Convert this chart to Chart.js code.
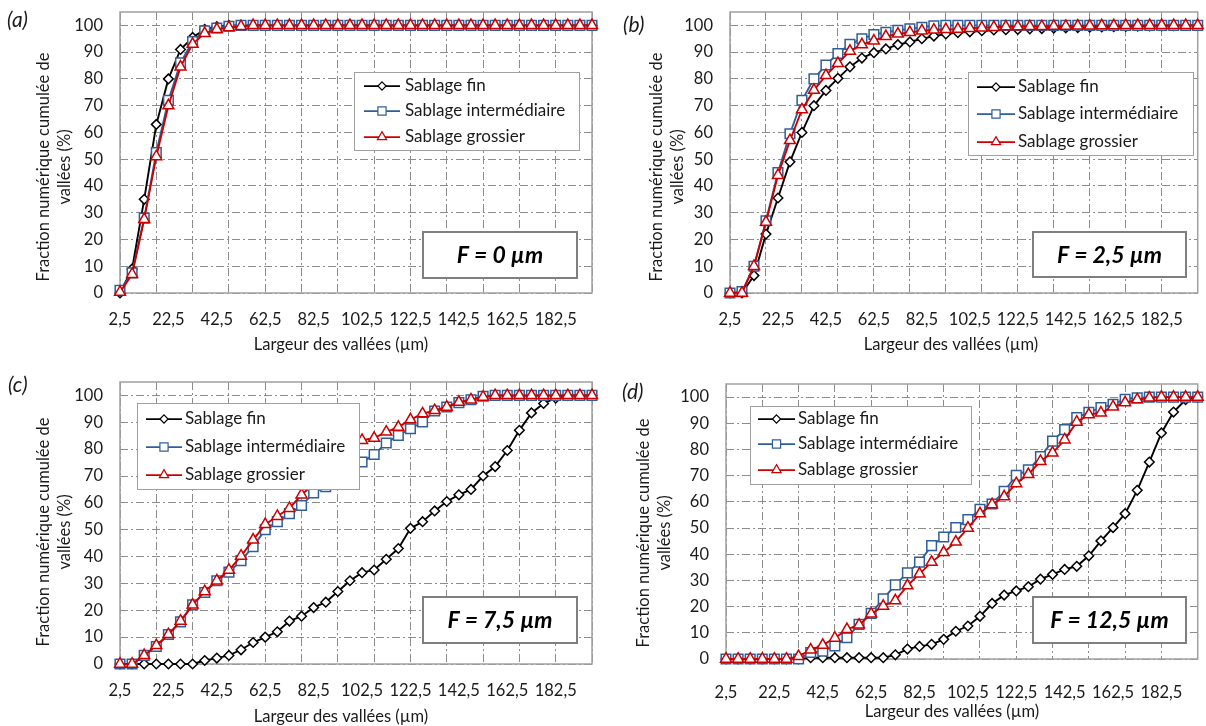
<!DOCTYPE html>
<html>
<head>
<meta charset="utf-8">
<script src="https://cdn.jsdelivr.net/npm/chart.js@4.4.1/dist/chart.umd.min.js"></script>
<style>
html, body { margin: 0; padding: 0; background: #fff; }
#wrap { position: relative; width: 1206px; height: 726px; overflow: hidden; }
canvas { position: absolute; }
</style>
</head>
<body>
<div id="wrap">
  <canvas id="pa" width="603" height="363" style="left:0;top:0"></canvas>
  <canvas id="pb" width="603" height="363" style="left:603px;top:0"></canvas>
  <canvas id="pc" width="603" height="363" style="left:0;top:363px"></canvas>
  <canvas id="pd" width="603" height="363" style="left:603px;top:363px"></canvas>
</div>
<script>
// valley widths (µm), one category every 5 µm
const widths = ['2,5', '7,5', '12,5', '17,5', '22,5', '27,5', '32,5', '37,5', '42,5', '47,5',
  '52,5', '57,5', '62,5', '67,5', '72,5', '77,5', '82,5', '87,5', '92,5', '97,5',
  '102,5', '107,5', '112,5', '117,5', '122,5', '127,5', '132,5', '137,5', '142,5', '147,5',
  '152,5', '157,5', '162,5', '167,5', '172,5', '177,5', '182,5', '187,5', '192,5', '197,5'];

const seriesNames = ['Sablage fin', 'Sablage intermédiaire', 'Sablage grossier'];
const panelLetters = ['(a)', '(b)', '(c)', '(d)'];
const filterLabels = ['F = 0 µm', 'F = 2,5 µm', 'F = 7,5 µm', 'F = 12,5 µm'];
const yTitle = ['Fraction numérique cumulée de', 'vallées (%)'];
const xTitle = 'Largeur des vallées (µm)';

// (a) F = 0 µm
const finA = [0, 9, 35, 63, 80, 91, 95.5, 98.5, 99.5, 100,
  100, 100, 100, 100, 100, 100, 100, 100, 100, 100,
  100, 100, 100, 100, 100, 100, 100, 100, 100, 100,
  100, 100, 100, 100, 100, 100, 100, 100, 100, 100];
const interA = [1, 7.5, 28, 52.5, 72, 86, 94, 98, 99, 99.7,
  100, 100, 100, 100, 100, 100, 100, 100, 100, 100,
  100, 100, 100, 100, 100, 100, 100, 100, 100, 100,
  100, 100, 100, 100, 100, 100, 100, 100, 100, 100];
const grosA = [0.3, 7, 27.5, 51, 70, 84.5, 93, 97, 98.5, 99.2,
  99.6, 100, 100, 100, 100, 100, 100, 100, 100, 100,
  100, 100, 100, 100, 100, 100, 100, 100, 100, 100,
  100, 100, 100, 100, 100, 100, 100, 100, 100, 100];

// (b) F = 2,5 µm
const finB = [0, 0, 6.5, 22, 35.5, 49, 60, 70, 75.7, 80.2,
  84.5, 87.8, 89.8, 91.2, 92.8, 93.8, 95, 96, 96.8, 97.3,
  97.6, 98, 98.3, 98.4, 98.5, 98.7, 98.8, 99, 99.1, 99.2,
  99.3, 99.4, 99.5, 99.6, 99.7, 99.8, 99.8, 99.9, 100, 100];
const interB = [0, 0.5, 10, 27, 45, 59.5, 72, 80, 85.2, 89.5,
  92.9, 95, 96.6, 97.4, 98.2, 98.7, 99.3, 99.8, 100, 100,
  100, 100, 100, 100, 100, 100, 100, 100, 100, 100,
  100, 100, 100, 100, 100, 100, 100, 100, 100, 100];
const grosB = [0, 0, 10, 26.5, 44, 57, 68.5, 75.8, 81.3, 85.8,
  90.4, 92.8, 94.2, 95.9, 96.8, 97.4, 98, 98.3, 98.5, 98.6,
  98.9, 99.1, 99.3, 99.5, 99.5, 99.6, 99.6, 99.7, 99.7, 99.8,
  99.8, 99.9, 99.9, 100, 100, 100, 100, 100, 100, 100];

// (c) F = 7,5 µm
const finC = [0, 0, 0, 0, 0, 0, 0, 1.3, 2.2, 3.2,
  5.3, 8, 10, 12, 16, 17.8, 21, 23, 27, 31,
  34, 35, 39, 43, 50.5, 53, 57, 60.5, 63, 65,
  70, 73.5, 79.5, 87, 93.5, 97, 99, 100, 100, 100];
const interC = [0, 0, 3.2, 6.5, 11, 15.7, 22, 26.6, 31, 34.2,
  38.5, 43.7, 50, 53, 56, 59, 63.7, 66, 70, 72.5,
  75.2, 78, 82.3, 85.1, 87.6, 90.1, 94.2, 95.7, 97.3, 98.4,
  99.7, 100, 100, 100, 100, 100, 100, 100, 100, 100];
const grosC = [0, 0, 3.2, 6.9, 11, 16, 22, 27, 31, 35,
  40.2, 46.2, 52, 55, 58, 63, 67, 72, 77, 81,
  83.3, 84.1, 86.4, 88.2, 91, 93.2, 94.4, 95.7, 97.5, 98.4,
  99.4, 100, 100, 100, 100, 100, 100, 100, 100, 100];

// (d) F = 12,5 µm
const finD = [0, 0, 0, 0, 0, 0, 0, 0.5, 0.5, 0.5,
  0.5, 0.5, 0.5, 0.5, 1.6, 3.8, 4.8, 5.6, 7.5, 10.6,
  12.6, 16.3, 21.2, 24.4, 26, 27.6, 30.5, 32.3, 34.2, 35.4,
  39.4, 45.1, 50.2, 55.5, 64.4, 75.2, 86.3, 94.3, 99, 100];
const interD = [0, 0, 0, 0, 0, 0, 0, 2.5, 3, 5,
  8.1, 13.2, 17.4, 23, 28.3, 32.9, 37, 43.3, 46.6, 50.2,
  53.2, 57.2, 59.2, 64, 70.1, 72.2, 77.3, 83.2, 87.6, 92.2,
  94.2, 96, 97.2, 99.2, 99.7, 100, 100, 100, 100, 100];
const grosD = [0, 0, 0, 0, 0, 0, 1, 3.5, 5.3, 8,
  11.3, 13, 17.2, 20.2, 22.3, 28, 32.5, 37, 40.7, 44.7,
  50, 55.5, 59, 62, 67, 70.5, 75.5, 78.7, 83.7, 90.5,
  93.3, 94, 96.3, 97.9, 99, 99.7, 100, 100, 100, 100];

const panelData = [
  [finA, interA, grosA],
  [finB, interB, grosB],
  [finC, interC, grosC],
  [finD, interD, grosD]
];

// look
const TEXT = '#1a1a1a';
const GRID = '#8c8c8c';
const FONT = 'Lato, "Noto Sans", sans-serif';
const seriesStyle = [
  { color: '#000000', shape: 'rectRot', r: 4.8 },
  { color: '#2f5e98', shape: 'rect', r: 6.8 },
  { color: '#cc0000', shape: 'triangle', r: 6.3 }
];

// per panel placement inside its 603x363 canvas
const layouts = [
  { id: 'pa', area: { left: 120, top: 12, right: 592, bottom: 293 }, tickGap: 27,
    letter: [7, 20], yT: [44, 167], xT: [341, 345],
    legend: { box: [354, 72, 225, 78], rows: [86, 111, 137], sample: [364, 400], text: 405 },
    fbox: [423, 232, 154, 46] },
  { id: 'pb', area: { left: 127, top: 12, right: 601, bottom: 293 }, tickGap: 27,
    letter: [20, 25], yT: [54, 167], xT: [348, 345],
    legend: { box: [365, 72, 225, 83], rows: [87, 114, 142], sample: [374, 412], text: 415 },
    fbox: [430, 232, 153, 45] },
  { id: 'pc', area: { left: 120, top: 19, right: 592, bottom: 301 }, tickGap: 27,
    letter: [8, 22], yT: [44, 169], xT: [341, 354],
    legend: { box: [137, 40, 222, 86], rows: [56, 84, 112], sample: [146, 182], text: 185 },
    fbox: [423, 234, 154, 46] },
  { id: 'pd', area: { left: 123, top: 21, right: 602, bottom: 296 }, tickGap: 34,
    letter: [19, 29], yT: [41, 170], xT: [349, 349],
    legend: { box: [147, 43, 221, 78], rows: [56, 81, 107], sample: [155, 192], text: 195 },
    fbox: [430, 234, 153, 46] }
];

function drawMarker(ctx, shape, x, y, r) {
  ctx.beginPath();
  if (shape === 'rectRot') {
    ctx.moveTo(x, y - r); ctx.lineTo(x + r, y); ctx.lineTo(x, y + r); ctx.lineTo(x - r, y);
  } else if (shape === 'rect') {
    const s = r * Math.SQRT1_2;
    ctx.rect(x - s, y - s, 2 * s, 2 * s);
  } else {
    ctx.moveTo(x, y - r);
    ctx.lineTo(x + 0.866 * r, y + 0.5 * r);
    ctx.lineTo(x - 0.866 * r, y + 0.5 * r);
  }
  ctx.closePath();
  ctx.fill();
  ctx.stroke();
}

const decor = {
  id: 'decor',
  beforeDatasetsDraw(chart) {
    const { ctx, chartArea: a } = chart;
    ctx.save();
    ctx.strokeStyle = '#a0a0a0';
    ctx.lineWidth = 1.5;
    ctx.strokeRect(a.left, a.top, a.right - a.left, a.bottom - a.top);
    ctx.restore();
  },
  afterDraw(chart, args, o) {
    const ctx = chart.ctx;
    const L = o.layout;
    ctx.save();
    ctx.fillStyle = TEXT;
    ctx.textBaseline = 'middle';

    ctx.font = 'italic 21px ' + FONT;
    ctx.textAlign = 'left';
    ctx.fillText(o.letter, L.letter[0], L.letter[1]);

    ctx.font = '16.5px ' + FONT;
    ctx.textAlign = 'center';
    ctx.save();
    ctx.translate(L.yT[0], L.yT[1]);
    ctx.rotate(-Math.PI / 2);
    ctx.fillText(yTitle[0], 0, 0);
    ctx.fillText(yTitle[1], 0, 21);
    ctx.restore();
    ctx.fillText(xTitle, L.xT[0], L.xT[1]);

    // legend box
    const g = L.legend;
    ctx.fillStyle = '#ffffff';
    ctx.fillRect(g.box[0], g.box[1], g.box[2], g.box[3]);
    ctx.strokeStyle = '#a0a0a0';
    ctx.lineWidth = 1;
    ctx.strokeRect(g.box[0] + 0.5, g.box[1] + 0.5, g.box[2], g.box[3]);
    chart.data.datasets.forEach((ds, i) => {
      const y = g.rows[i];
      const st = seriesStyle[i];
      ctx.strokeStyle = st.color;
      ctx.lineWidth = 1.75;
      ctx.beginPath();
      ctx.moveTo(g.sample[0], y);
      ctx.lineTo(g.sample[1], y);
      ctx.stroke();
      ctx.fillStyle = '#ffffff';
      ctx.lineWidth = 1.2;
      drawMarker(ctx, st.shape, (g.sample[0] + g.sample[1]) / 2, y, st.r * 0.85);
      ctx.fillStyle = TEXT;
      ctx.font = '17px ' + FONT;
      ctx.textAlign = 'left';
      ctx.fillText(ds.label, g.text, y);
    });

    // filter size box
    const f = L.fbox;
    ctx.fillStyle = '#ffffff';
    ctx.fillRect(f[0], f[1], f[2], f[3]);
    ctx.strokeStyle = '#7f7f7f';
    ctx.lineWidth = 2;
    ctx.strokeRect(f[0], f[1], f[2], f[3]);
    ctx.fillStyle = '#000000';
    ctx.font = 'italic bold 23px ' + FONT;
    ctx.textAlign = 'center';
    ctx.fillText(o.fLabel, f[0] + f[2] / 2, f[1] + f[3] / 2 + 1);
    ctx.restore();
  }
};

function noPad(s) {
  s.paddingTop = 0;
  s.paddingBottom = 0;
  s.paddingLeft = 0;
  s.paddingRight = 0;
}

function makePanel(p) {
  const L = layouts[p];
  const datasets = panelData[p].map((vals, i) => ({
    label: seriesNames[i],
    data: vals,
    borderColor: seriesStyle[i].color,
    backgroundColor: '#ffffff',
    pointBackgroundColor: '#ffffff',
    pointBorderColor: seriesStyle[i].color,
    pointBorderWidth: 1.5,
    pointStyle: seriesStyle[i].shape,
    pointRadius: seriesStyle[i].r,
    borderWidth: 1.9,
    tension: 0,
    clip: false,
    order: 3 - i
  }));
  new Chart(document.getElementById(L.id), {
    type: 'line',
    data: { labels: widths, datasets: datasets },
    options: {
      responsive: false,
      animation: false,
      devicePixelRatio: 1,
      events: [],
      layout: { padding: { left: 0, top: L.area.top, right: 603 - L.area.right, bottom: 0 } },
      plugins: {
        legend: { display: false },
        tooltip: { enabled: false },
        decor: { layout: L, letter: panelLetters[p], fLabel: filterLabels[p] }
      },
      scales: {
        x: {
          type: 'category',
          offset: false,
          grid: {
            drawTicks: false,
            lineWidth: 1,
            color: c => (c.index % 3 === 0 ? GRID : 'rgba(0,0,0,0)'),
            borderDash: [8, 3, 2, 3]
          },
          border: { display: false, dash: [8, 3, 2, 3] },
          ticks: {
            autoSkip: false,
            maxRotation: 0,
            minRotation: 0,
            padding: L.tickGap - 9.9,
            color: TEXT,
            font: { family: FONT, size: 16.5 },
            callback: (v, i) => (i % 4 === 0 ? widths[i] : '')
          },
          afterFit: s => { s.height = 363 - L.area.bottom; noPad(s); }
        },
        y: {
          min: 0,
          max: 105,
          grid: { drawTicks: false, lineWidth: 1, color: GRID, borderDash: [8, 3, 2, 3] },
          border: { display: false, dash: [8, 3, 2, 3] },
          ticks: {
            stepSize: 10,
            includeBounds: false,
            padding: 17,
            color: TEXT,
            font: { family: FONT, size: 16.5 }
          },
          afterFit: s => { s.width = L.area.left; noPad(s); }
        }
      }
    },
    plugins: [decor]
  });
}

document.fonts.load('16px Lato').then(() => {
  for (let p = 0; p < 4; p++) makePanel(p);
});
</script>
</body>
</html>
